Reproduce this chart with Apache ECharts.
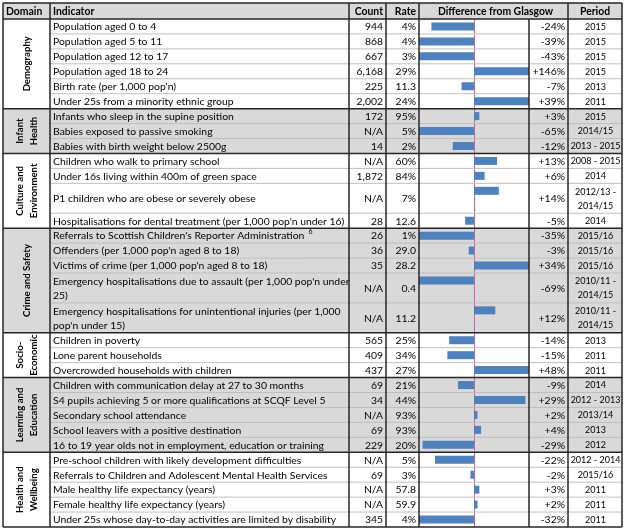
<!DOCTYPE html>
<html><head><meta charset="utf-8">
<script src="https://cdn.jsdelivr.net/npm/echarts@6/dist/echarts.min.js"></script>
<style>html,body{margin:0;padding:0;background:#fff}#c{width:624px;height:529px}</style>
</head><body><div id="c"></div>
<script>
// ---- data ----
const domainNames = ['Demography', 'Infant\nHealth', 'Culture and\nEnvironment', 'Crime and Safety', 'Socio-\nEconomic', 'Learning and\nEducation', 'Health and\nWellbeing'];
const domainRowCounts = [6, 3, 4, 5, 3, 5, 5];
const domainShaded = [false, true, false, true, false, true, false];
const indicators = [
  'Population aged 0 to 4', 'Population aged 5 to 11', 'Population aged 12 to 17', 'Population aged 18 to 24',
  "Birth rate (per 1,000 pop'n)", 'Under 25s from a minority ethnic group',
  'Infants who sleep in the supine position', 'Babies exposed to passive smoking', 'Babies with birth weight below 2500g',
  'Children who walk to primary school', 'Under 16s living within 400m of green space', 'P1 children who are obese or severely obese',
  "Hospitalisations for dental treatment (per 1,000 pop'n under 16)",
  "Referrals to Scottish Children's Reporter Administration", "Offenders (per 1,000 pop'n aged 8 to 18)",
  "Victims of crime (per 1,000 pop'n aged 8 to 18)", "Emergency hospitalisations due to assault (per 1,000 pop'n under\n25)",
  "Emergency hospitalisations for unintentional injuries (per 1,000\npop'n under 15)",
  'Children in poverty', 'Lone parent households', 'Overcrowded households with children',
  'Children with communication delay at 27 to 30 months', 'S4 pupils achieving 5 or more qualifications at SCQF Level 5',
  'Secondary school attendance', 'School leavers with a positive destination', '16 to 19 year olds not in employment, education or training',
  'Pre-school children with likely development difficulties', 'Referrals to Children and Adolescent Mental Health Services',
  'Male healthy life expectancy (years)', 'Female healthy life expectancy (years)', 'Under 25s whose day-to-day activities are limited by disability'
];
const footnotes = {13: '6'};
const counts = ['944', '868', '667', '6,168', '225', '2,002', '172', 'N/A', '14', 'N/A', '1,872', 'N/A', '28', '26', '36', '35', 'N/A', 'N/A',
  '565', '409', '437', '69', '34', 'N/A', '69', '229', 'N/A', '69', 'N/A', 'N/A', '345'];
const rates = ['4%', '4%', '3%', '29%', '11.3', '24%', '95%', '5%', '2%', '60%', '84%', '7%', '12.6', '1%', '29.0', '28.2', '0.4', '11.2',
  '25%', '34%', '27%', '21%', '44%', '93%', '93%', '20%', '5%', '3%', '57.8', '59.9', '4%'];
const diffs = [-24, -39, -43, 146, -7, 39, 3, -65, -12, 13, 6, 14, -5, -35, -3, 34, -69, 12, -14, -15, 48, -9, 29, 2, 4, -29, -22, -2, 3, 2, -32];
const periods = ['2015', '2015', '2015', '2015', '2013', '2011', '2015', '2014/15', '2013 - 2015', '2008 - 2015', '2014', '2012/13 -\n2014/15', '2014',
  '2015/16', '2015/16', '2015/16', '2010/11 -\n2014/15', '2010/11 -\n2014/15', '2013', '2011', '2011', '2014', '2012 - 2013', '2013/14', '2013', '2012',
  '2012 - 2014', '2015/16', '2011', '2011', '2011'];
const rowSpans = [1,1,1,1,1,1, 1,1,1, 1,1,2,1, 1,1,1,2,2, 1,1,1, 1,1,1,1,1, 1,1,1,1,1];
const headers = ['Domain', 'Indicator', 'Count', 'Rate', 'Difference from Glasgow', 'Period'];

// ---- layout ----
const X = {left: 3, ind: 50, count: 349, rate: 386, diff: 419, pct: 529, period: 568, right: 622};
const TOP = 3, HEAD = 19, BOTTOM = 527;
const FONT = 'Lato, "Open Sans", sans-serif';
const FS = 10.4;
const DARK = '#262626', THIN = '#BFBFBF', SHADE = '#D9D9D9';
const BLUE = '#4F81BD', PINK = '#C8659F';

const slotCats = [], barData = [], rowSlot = [];
let s = 0;
indicators.forEach((ind, i) => {
  rowSlot.push(s);
  for (let k = 0; k < rowSpans[i]; k++) {
    slotCats.push('r' + i + '_' + k);
    barData.push(k === 0 ? diffs[i] : '-');
  }
  s += rowSpans[i];
});

const chart = echarts.init(document.getElementById('c'), null, {renderer: 'canvas'});
chart.setOption({
  animation: false,
  grid: {left: X.diff, right: 624 - X.pct, top: HEAD, bottom: 529 - BOTTOM, containLabel: false},
  xAxis: {type: 'value', min: -31, max: 31, show: false},
  yAxis: {type: 'category', data: slotCats, inverse: true, show: false},
  series: [{
    type: 'bar', data: barData, barWidth: 8, clip: true, z: 5,
    itemStyle: {color: BLUE},
    markLine: {silent: true, symbol: 'none', label: {show: false},
      lineStyle: {color: PINK, width: 1, type: 'solid'}, data: [{xAxis: 0}]}
  }]
});

// table drawn around the library's row positions
const y0 = chart.convertToPixel({yAxisIndex: 0}, 0);
const y1 = chart.convertToPixel({yAxisIndex: 0}, 1);
const bh = y1 - y0;
const rowTop = i => chart.convertToPixel({yAxisIndex: 0}, rowSlot[i]) - bh / 2;
const rowBot = i => rowTop(i) + rowSpans[i] * bh;

const g = [];
const txt = (x, y, t, align, opts) => g.push(Object.assign({type: 'text', z: 20, x: x, y: y,
  style: Object.assign({text: t, fill: '#000', font: FS + 'px ' + FONT, align: align, verticalAlign: 'middle', lineHeight: 14}, opts || {})}));
const line = (x1, y1_, x2, y2, color, w) => g.push({type: 'line', z: 30, shape: {x1: x1, y1: y1_, x2: x2, y2: y2}, style: {stroke: color, lineWidth: w}});
const rect = (x, y, w, h, color) => g.push({type: 'rect', z: -10, shape: {x: x, y: y, width: w, height: h}, style: {fill: color}});

// header
rect(X.left, TOP, X.right - X.left, HEAD - TOP, SHADE);
const hy = (TOP + HEAD) / 2 + 0.5;
const hb = {font: 'bold ' + FS + 'px ' + FONT};
txt(X.left + 3, hy, headers[0], 'left', hb);
txt(X.ind + 3, hy, headers[1], 'left', hb);
txt(X.rate - 3, hy, headers[2], 'right', hb);
txt(X.diff - 3, hy, headers[3], 'right', hb);
txt((X.diff + X.period) / 2 + 2, hy, headers[4], 'center', hb);
txt((X.period + X.right) / 2, hy, headers[5], 'center', hb);

// domains
let r = 0;
domainNames.forEach((d, di) => {
  const first = r, last = r + domainRowCounts[di] - 1;
  const top = rowTop(first), bot = rowBot(last);
  if (domainShaded[di]) rect(X.left, top, X.right - X.left, bot - top, SHADE);
  g.push({type: 'text', z: 20, x: (X.left + X.ind) / 2, y: (top + bot) / 2, rotation: Math.PI / 2,
    style: {text: d, fill: '#000', font: 'bold 9.6px ' + FONT, align: 'center', verticalAlign: 'middle', lineHeight: 14}});
  for (let i = first; i < last; i++) line(X.ind, rowBot(i), X.right, rowBot(i), THIN, 1);
  line(X.left, bot, X.right, bot, DARK, 1.5);
  r = last + 1;
});

// rows
indicators.forEach((ind, i) => {
  const top = rowTop(i), bot = rowBot(i), cy = (top + bot) / 2 + 0.5;
  txt(X.ind + 3, cy, ind, 'left');
  txt(X.rate - 3, cy, counts[i], 'right');
  txt(X.diff - 3, cy, rates[i], 'right');
  txt(X.period - 3, cy, (diffs[i] > 0 ? '+' : '') + diffs[i] + '%', 'right');
  txt((X.period + X.right) / 2 + 0.5, cy, periods[i], 'center', {fontSize: 9, fontFamily: FONT, font: null});
});
// footnote marker
Object.keys(footnotes).forEach(k => {
  const i = +k;
  const ctx = document.createElement('canvas').getContext('2d');
  ctx.font = FS + 'px ' + FONT;
  const w = ctx.measureText(indicators[i]).width;
  txt(X.ind + 3 + w + 4, rowTop(i) + 4, footnotes[k], 'left', {font: '7px ' + FONT});
});

// grid lines
line(X.left, TOP, X.right, TOP, DARK, 1.5);
line(X.left, HEAD, X.right, HEAD, DARK, 1.5);
[X.left, X.ind, X.count, X.rate, X.diff, X.period, X.right].forEach(x => line(x, TOP, x, BOTTOM, DARK, 1.5));
line(X.pct, HEAD, X.pct, BOTTOM, DARK, 1.5);

chart.setOption({graphic: {elements: g}});
</script>
</body></html>
